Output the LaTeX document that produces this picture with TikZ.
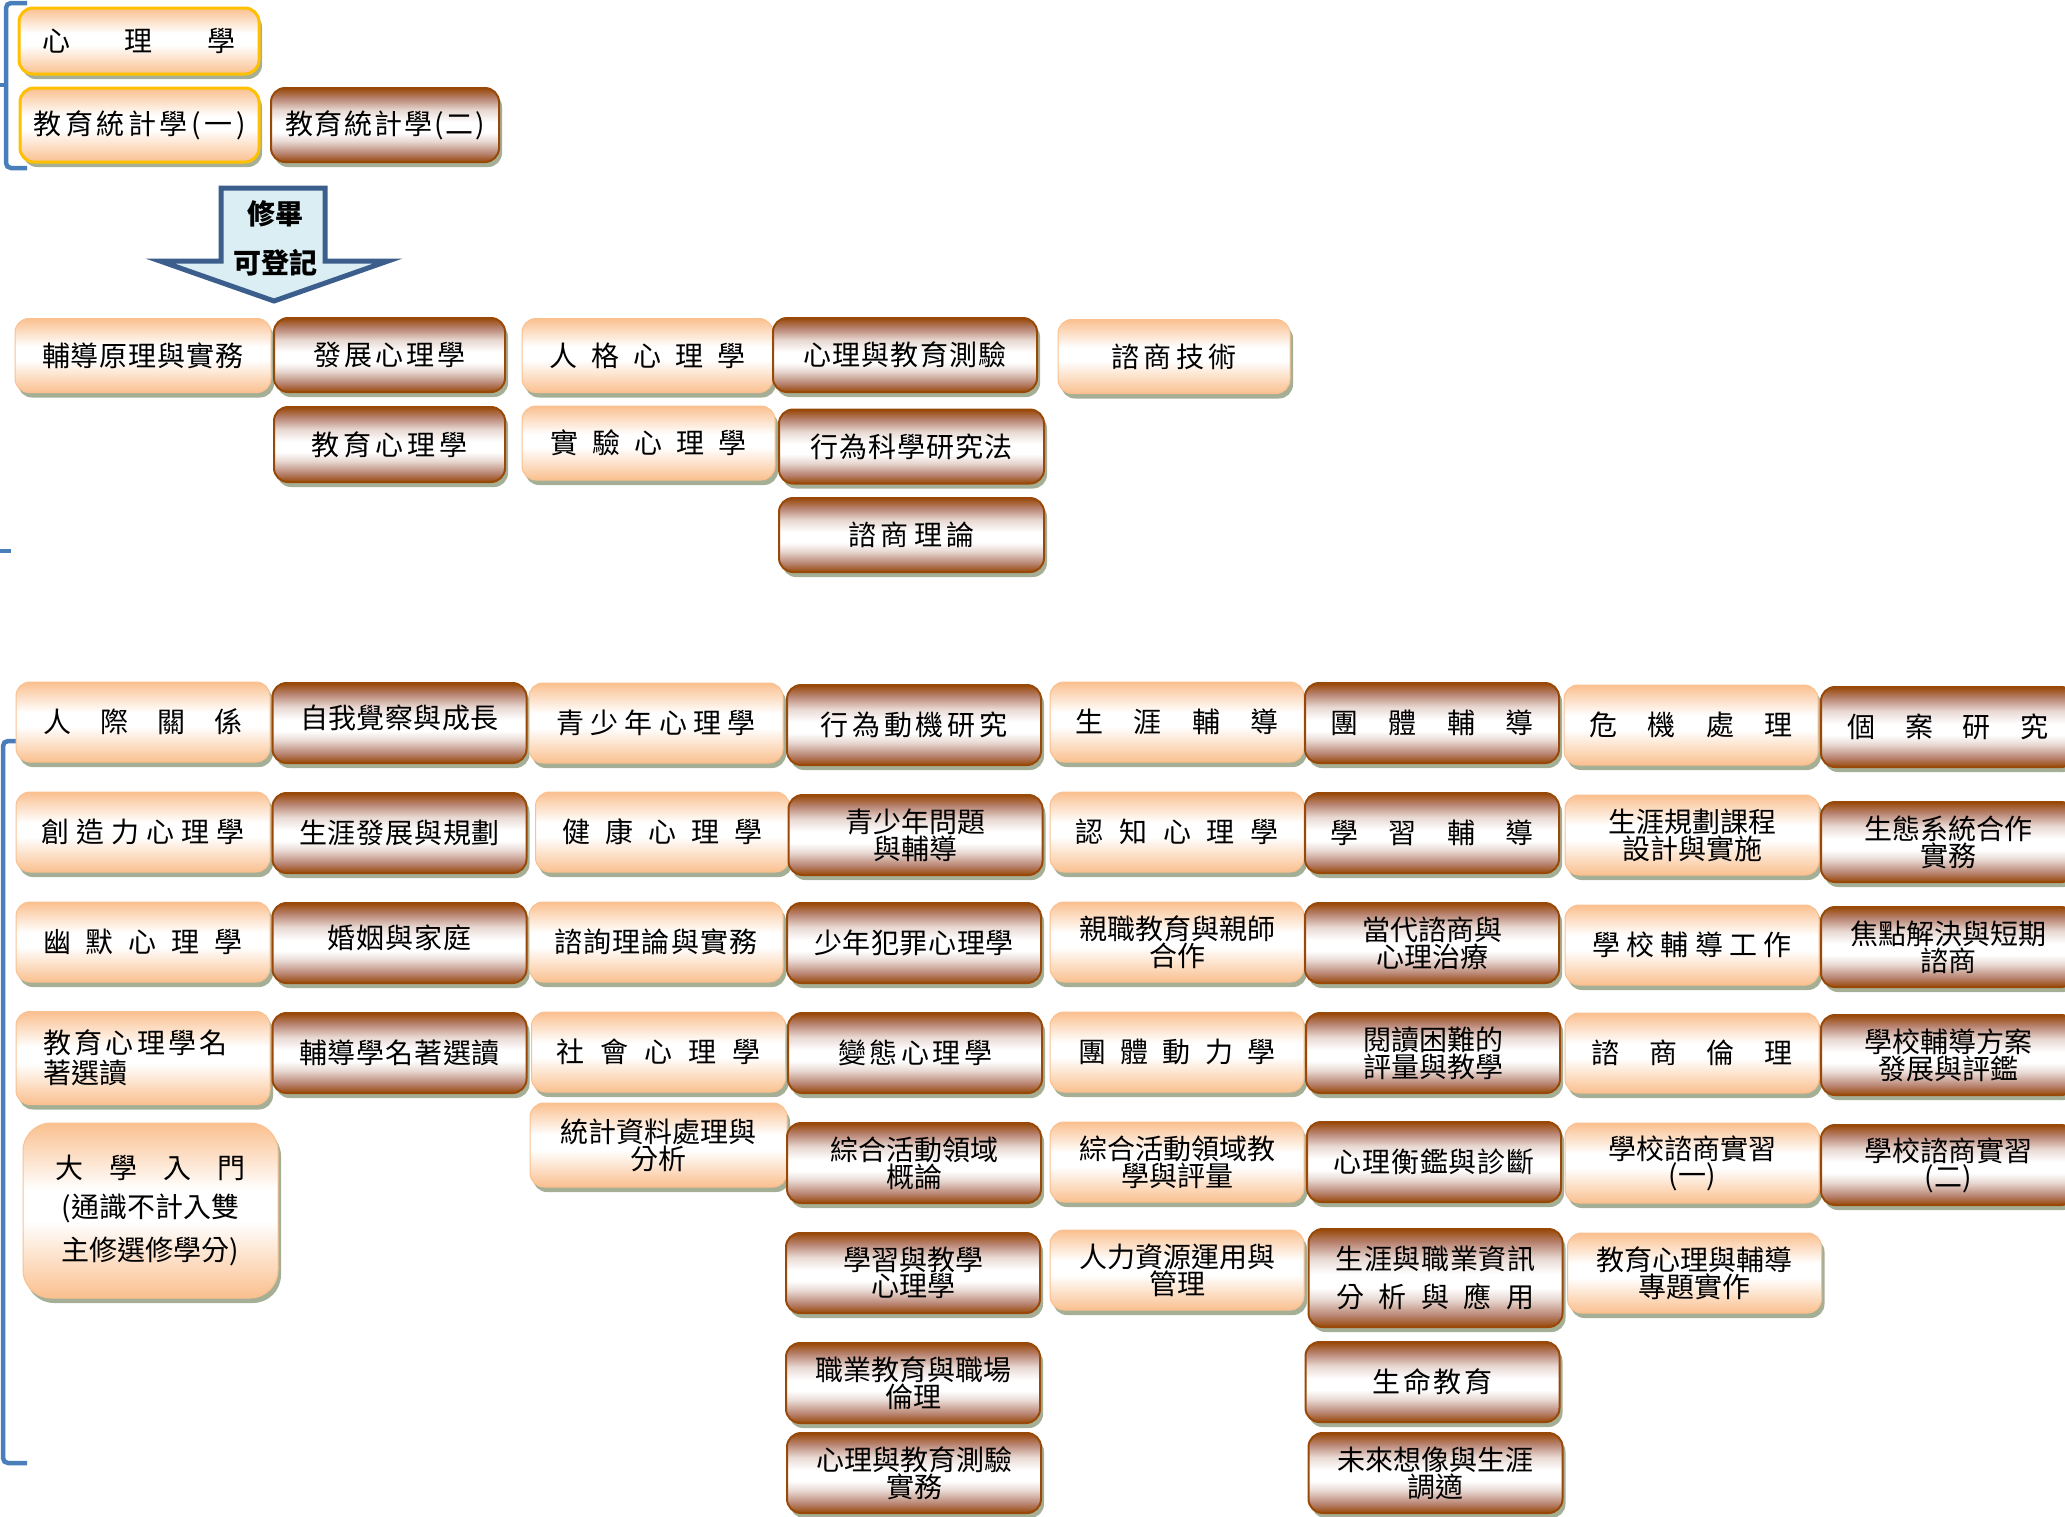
\documentclass[tikz,border=0pt]{standalone}
\usepackage{fontspec}
\setmainfont{Noto Sans CJK TC}
\usepackage{tikz}
\usetikzlibrary{shadows}
\definecolor{peachtone}{HTML}{FAC08F}
\definecolor{rustbrown}{HTML}{984807}
\definecolor{rustmid}{HTML}{B98573}
\definecolor{rustpale}{HTML}{E8D8D2}
\definecolor{goldline}{HTML}{FFC000}
\definecolor{shadowsage}{HTML}{A4AF95}
\definecolor{sideblue}{HTML}{4A7EBB}
\definecolor{arrowfill}{HTML}{DBEEF4}
\definecolor{arrowline}{HTML}{3C5E8C}
\pgfdeclareverticalshading{peachfade}{100bp}{color(0bp)=(peachtone); color(25bp)=(peachtone); color(47bp)=(white); color(56bp)=(white); color(75bp)=(peachtone); color(100bp)=(peachtone)}
\pgfdeclareverticalshading{rustfade}{100bp}{color(0bp)=(rustbrown); color(25bp)=(rustbrown); color(31bp)=(rustmid); color(39bp)=(rustpale); color(45bp)=(white); color(52bp)=(white); color(60bp)=(rustpale); color(68bp)=(rustmid); color(75bp)=(rustbrown); color(100bp)=(rustbrown)}
\newcommand{\spread}[2]{\makebox[#1pt][s]{\spaceskip=0pt plus 1fil\relax #2}}

\begin{document}
\begin{tikzpicture}[
  x=1pt, y=-1pt,
  every node/.style={font=\fontsize{28}{25}\selectfont, inner sep=0pt},
  box/.style={rounded corners=14pt, minimum width=254pt, minimum height=80pt, align=center,
              drop shadow={shadow xshift=3pt, shadow yshift=-5pt, fill=shadowsage, opacity=1}},
  peach/.style={box, draw=peachtone, line width=1pt, shade, shading=peachfade},
  rust/.style={box, draw=rustbrown, line width=2pt, shade, shading=rustfade},
  goldbox/.style={peach, draw=goldline, line width=3pt},
  sidebar/.style={draw=sideblue, line width=4.5pt, rounded corners=5pt},
  blockarrow/.style={draw=arrowline, fill=arrowfill, line width=5pt, line join=miter},
]
  \useasboundingbox (0,0) rectangle (2065,1516);

  % side brackets
  \draw[sidebar] (27,3) -- (6,3) -- (6,168) -- (27,168);
  \draw[sidebar] (0,85) -- (6,85);
  \draw[sidebar] (0,551) -- (11,551);
  \draw[sidebar] (16,741) -- (3,741) -- (3,1463) -- (27,1463);

  % first year
  \node[goldbox, minimum width=240pt, minimum height=66pt] (psych) at (139,41) {\spread{193}{心 理 學}};
  \node[goldbox, minimum width=239pt, minimum height=74pt] (stat1) at (139.5,125) {\spread{212}{教 育 統 計 學 ( 一 )}};
  \node[rust, minimum width=228pt, minimum height=74pt] (stat2) at (385,125) {\spread{200}{教 育 統 計 學 ( 二 )}};

  \draw[blockarrow] (221,188) -- (325,188) -- (325,261) -- (388,261) -- (274,301) -- (160,261) -- (221,261) -- cycle;
  \node[font=\fontsize{28}{49}\selectfont\bfseries, align=center] (done) at (275,238) {修畢\\可登記};

  % core courses
  \node[peach, minimum width=256pt, minimum height=74pt] (guidance) at (143,355.5) {\spread{202}{輔 導 原 理 與 實 務}};
  \node[rust, minimum width=231pt, minimum height=74pt] (devpsy) at (389.5,355) {\spread{153}{發 展 心 理 學}};
  \node[peach, minimum width=251pt, minimum height=74pt] (personality) at (647.5,355.5) {\spread{196}{人 格 心 理 學}};
  \node[rust, minimum width=264pt, minimum height=74pt] (testing) at (905,355) {\spread{204}{心 理 與 教 育 測 驗}};
  \node[peach, minimum width=232pt, minimum height=74pt] (skills) at (1174,356.5) {\spread{125}{諮 商 技 術}};
  \node[rust, minimum width=231pt, minimum height=75pt] (edpsy) at (389.5,444.5) {\spread{156}{教 育 心 理 學}};
  \node[peach, minimum width=253pt, minimum height=74pt] (exppsy) at (648.5,443) {\spread{196}{實 驗 心 理 學}};
  \node[rust, minimum width=265pt, minimum height=74pt] (method) at (911.5,446.5) {\spread{202}{行 為 科 學 研 究 法}};
  \node[rust, minimum width=265pt, minimum height=74pt] (theory) at (911.5,535) {\spread{127}{諮 商 理 論}};

  % electives
  \node[peach] (relations) at (143,722) {\spread{200}{人 際 關 係}};
  \node[rust] (selfaware) at (399.5,723) {\raisebox{13pt}{\spread{199}{自 我 覺 察 與 成 長}}};
  \node[peach] (youthpsy) at (656,723) {\spread{200}{青 少 年 心 理 學}};
  \node[rust] (motive) at (914,725) {\spread{187}{行 為 動 機 研 究}};
  \node[peach] (career) at (1177,722) {\spread{203}{生 涯 輔 導}};
  \node[rust] (groupguide) at (1432,723) {\spread{203}{團 體 輔 導}};
  \node[peach] (crisis) at (1691,725) {\spread{204}{危 機 處 理}};
  \node[rust] (casestudy) at (1948,727) {\spread{201}{個 案 研 究}};

  \node[peach] (creative) at (143,832) {\spread{204}{創 造 力 心 理 學}};
  \node[rust] (careerplan) at (399.5,833) {\spread{201}{生 涯 發 展 與 規 劃}};
  \node[peach] (health) at (662.5,832) {\spread{201}{健 康 心 理 學}};
  \node[rust] (youthissue) at (915.5,835) {青少年問題\\與輔導};
  \node[peach] (cognitive) at (1177,832) {\spread{203}{認 知 心 理 學}};
  \node[rust] (learnguide) at (1432,833) {\spread{203}{學 習 輔 導}};
  \node[peach] (careercourse) at (1692,835) {生涯規劃課程\\設計與實施};
  \node[rust] (ecosystem) at (1948,842) {生態系統合作\\實務};

  \node[peach] (humor) at (143,942) {\spread{200}{幽 默 心 理 學}};
  \node[rust] (marriage) at (399.5,943) {\raisebox{13pt}{\spread{144}{婚 姻 與 家 庭}}};
  \node[peach] (consult) at (656,942) {\spread{204}{諮 詢 理 論 與 實 務}};
  \node[rust] (delinq) at (914,943) {\spread{200}{少 年 犯 罪 心 理 學}};
  \node[peach] (parenting) at (1177,942) {親職教育與親師\\合作};
  \node[rust] (therapy) at (1432,943) {當代諮商與\\心理治療};
  \node[peach] (schoolguide) at (1692,945) {\spread{200}{學 校 輔 導 工 作}};
  \node[rust] (brief) at (1948,947) {焦點解決與短期\\諮商};

  \node[peach, minimum height=93pt, align=left] (edclassic) at (143,1058) {\makebox[199pt][l]{\spread{184}{教 育 心 理 學 名}}\\[3pt]著選讀};
  \node[rust] (guideclassic) at (399.5,1053) {\spread{201}{輔 導 學 名 著 選 讀}};
  \node[peach] (social) at (658.5,1052) {\spread{204}{社 會 心 理 學}};
  \node[rust] (abnormal) at (915,1053) {\spread{154}{變 態 心 理 學}};
  \node[peach] (dynamics) at (1177,1052) {\spread{198}{團 體 動 力 學}};
  \node[rust] (reading) at (1433,1053) {閱讀困難的\\評量與教學};
  \node[peach] (ethics) at (1692,1053) {\spread{201}{諮 商 倫 理}};
  \node[rust] (program) at (1948,1055) {學校輔導方案\\發展與評鑑};

  \node[peach, minimum width=255pt, minimum height=175pt, rounded corners=28pt] (intro) at (150.5,1210.5) {\spread{191}{大 學 入 門}\\[13pt](通識不計入雙\\[13pt]主修選修學分)};
  \node[peach, minimum width=257pt, minimum height=84pt] (statdata) at (658.5,1145) {統計資料處理與\\分析};
  \node[rust] (intactive) at (914,1163) {綜合活動領域\\概論};
  \node[peach] (actteach) at (1177,1162) {綜合活動領域教\\學與評量};
  \node[rust] (assess) at (1434,1162) {\spread{201}{心 理 衡 鑑 與 診 斷}};
  \node[peach] (practicum1) at (1692,1163) {學校諮商實習\\(一)};
  \node[rust] (practicum2) at (1948,1165) {學校諮商實習\\(二)};

  \node[rust] (learnteach) at (913,1273) {學習與教學\\心理學};
  \node[peach] (hrm) at (1177,1270) {人力資源運用與\\管理};
  \node[rust, minimum height=98pt] (careerinfo) at (1435.5,1278) {\spread{200}{生 涯 與 職 業 資 訊}\\[10pt]\spread{198}{分 析 與 應 用}};
  \node[peach] (project) at (1694.5,1273) {教育心理與輔導\\專題實作};

  \node[rust] (vocation) at (913,1383) {職業教育與職場\\倫理};
  \node[rust] (life) at (1432.5,1382) {\spread{120}{生 命 教 育}};

  \node[rust] (testpractice) at (914,1473) {心理與教育測驗\\實務};
  \node[rust] (future) at (1435.5,1473) {未來想像與生涯\\調適};
\end{tikzpicture}
\end{document}
